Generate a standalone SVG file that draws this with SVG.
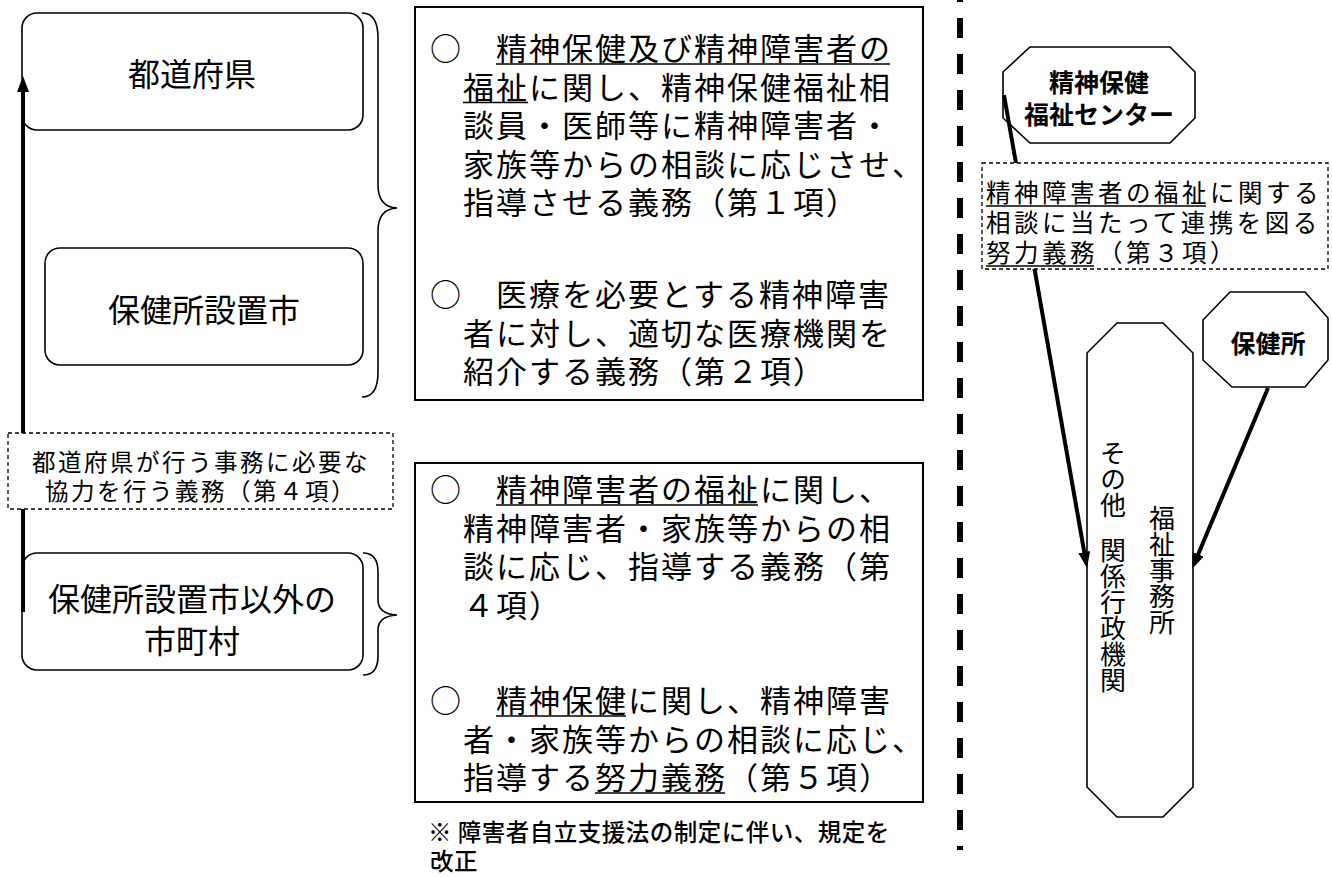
<svg xmlns="http://www.w3.org/2000/svg" width="1332" height="877" viewBox="0 0 1332 877">
<style>
text { font-family: "Noto Sans CJK JP", "Noto Sans", sans-serif; fill: #000; }
.node { fill: #fff; stroke: #000; stroke-width: 1.6; }
.box { fill: #fff; stroke: #000; stroke-width: 2; }
.dbox { fill: #fff; stroke: #000; stroke-width: 1.3; stroke-dasharray: 4 3; }
.brace { fill: none; stroke: #000; stroke-width: 1.6; }
.ul { stroke: #000; stroke-width: 1.7; }
.big { font-size: 32px; }
.body { font-size: 31px; letter-spacing: 2px; }
.lbl { font-size: 23.5px; letter-spacing: 2.5px; }
.rlbl { font-size: 24.5px; letter-spacing: 3.5px; }
.bold { font-weight: 700; font-size: 25px; }
.vert { font-size: 26px; writing-mode: vertical-rl; }
.note { font-size: 23.5px; letter-spacing: 0.5px; font-weight: 500; }
.conn { fill: none; stroke: #000; stroke-width: 4; }
</style>
<defs>
<marker id="ah" viewBox="0 0 16 12" markerWidth="16" markerHeight="12" refX="10" refY="6" orient="auto" markerUnits="userSpaceOnUse">
<path d="M0,0 L16,6 L0,12 z" fill="#000"/>
</marker>
</defs>

<g id="separator">
<line x1="960" y1="-18" x2="960" y2="850" stroke="#000" stroke-width="6" stroke-dasharray="20 16"/>
</g>

<g id="node-todofuken">
<rect class="node" x="22" y="13" width="341" height="117" rx="15"/>
<text class="big" x="192" y="86" text-anchor="middle">都道府県</text>
</g>

<g id="node-hokenjo-shi">
<rect class="node" x="45" y="248" width="318" height="117" rx="15"/>
<text class="big" x="204" y="322" text-anchor="middle">保健所設置市</text>
</g>

<g id="node-shichoson">
<rect class="node" x="22" y="553" width="341" height="117" rx="15"/>
<text class="big" x="192" y="611" text-anchor="middle">保健所設置市以外の</text>
<text class="big" x="192" y="653" text-anchor="middle">市町村</text>
</g>

<g id="braces">
<path class="brace" d="M362,13 Q378,13 378,38 L378,185 Q378,207 397,208 Q378,209 378,231 L378,372 Q378,397 362,397"/>
<path class="brace" d="M363,553 Q378,553 378,572 L378,600 Q378,614 397,615 Q378,616 378,630 L378,656 Q378,675 363,675"/>
</g>

<g id="node-duty-pref">
<rect class="box" x="415" y="7" width="508" height="393"/>
<text class="body" x="430" y="60">○　精神保健及び精神障害者の</text>
<text class="body" x="463" y="98.5">福祉に関し、精神保健福祉相</text>
<text class="body" x="463" y="137">談員・医師等に精神障害者・</text>
<text class="body" x="463" y="175.5">家族等からの相談に応じさせ、</text>
<text class="body" x="463" y="214">指導させる義務（第１項）</text>
<text class="body" x="430" y="306">○　医療を必要とする精神障害</text>
<text class="body" x="463" y="344.5">者に対し、適切な医療機関を</text>
<text class="body" x="463" y="383">紹介する義務（第２項）</text>
<line class="ul" x1="496" y1="64" x2="890" y2="64"/>
<line class="ul" x1="463" y1="102.5" x2="528" y2="102.5"/>
</g>

<g id="node-duty-muni">
<rect class="box" x="415" y="463" width="508" height="339"/>
<text class="body" x="430" y="501">○　精神障害者の福祉に関し、</text>
<text class="body" x="463" y="539.5">精神障害者・家族等からの相</text>
<text class="body" x="463" y="578">談に応じ、指導する義務（第</text>
<text class="body" x="463" y="616.5">４項）</text>
<text class="body" x="430" y="712">○　精神保健に関し、精神障害</text>
<text class="body" x="463" y="750.5">者・家族等からの相談に応じ、</text>
<text class="body" x="463" y="789">指導する努力義務（第５項）</text>
<line class="ul" x1="496" y1="505" x2="758" y2="505"/>
<line class="ul" x1="496" y1="716" x2="626" y2="716"/>
<line class="ul" x1="595" y1="793" x2="725" y2="793"/>
</g>

<g id="footnote">
<text class="note" x="428" y="841">※ 障害者自立支援法の制定に伴い、規定を</text>
<text class="note" x="430" y="870">改正</text>
</g>

<g id="node-center">
<polygon class="node" points="1030,47 1170,47 1195,72 1195,118 1170,143 1030,143 1003,118 1003,72"/>
<text class="bold" x="1099" y="92" text-anchor="middle">精神保健</text>
<text class="bold" x="1099" y="124" text-anchor="middle">福祉センター</text>
</g>

<g id="node-hokenjo">
<polygon class="node" points="1230,292 1305,292 1328,318 1328,360 1305,387 1232,387 1203,360 1203,320"/>
<text class="bold" x="1268" y="353" text-anchor="middle">保健所</text>
</g>

<g id="node-agencies">
<polygon class="node" points="1117,323 1163,323 1193,353 1193,787 1163,817 1117,817 1087,787 1087,353"/>
<text class="vert" x="1113" y="440">その他</text>
<text class="vert" x="1113" y="537">関係行政機関</text>
<text class="vert" x="1162" y="505">福祉事務所</text>
</g>

<g id="connectors">
<line class="conn" x1="23" y1="612" x2="23" y2="82" stroke-width="5" marker-end="url(#ah)"/>
<line class="conn" x1="1004" y1="95" x2="1086" y2="562" marker-end="url(#ah)"/>
<line class="conn" x1="1268" y1="388" x2="1194.3" y2="563.5" marker-end="url(#ah)"/>
</g>

<g id="label-cooperation">
<rect class="dbox" x="8" y="433" width="385" height="76"/>
<text class="lbl" x="201" y="471" text-anchor="middle">都道府県が行う事務に必要な</text>
<text class="lbl" x="201" y="500" text-anchor="middle">協力を行う義務（第４項）</text>
</g>

<g id="label-liaison">
<rect class="dbox" x="982" y="163" width="346" height="106"/>
<text class="rlbl" x="986" y="202">精神障害者の福祉に関する</text>
<text class="rlbl" x="986" y="232">相談に当たって連携を図る</text>
<text class="rlbl" x="986" y="262">努力義務（第３項）</text>
<line class="ul" x1="986" y1="206" x2="1206" y2="206"/>
<line class="ul" x1="986" y1="266" x2="1094" y2="266"/>
</g>
</svg>
